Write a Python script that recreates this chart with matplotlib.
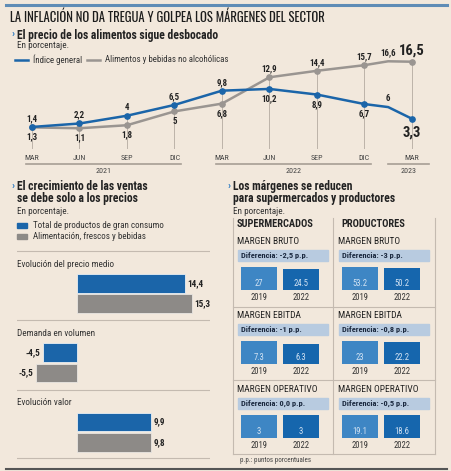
import matplotlib
matplotlib.use('Agg')
import matplotlib.pyplot as plt
from matplotlib.patches import Rectangle

W, H = 452, 471
BG = '#f2e8dc'
BLUE = '#1b65a9'
GREY = '#9a9591'
LINEC = '#c4bab0'
DARK = '#222222'
NARROW = ['Roboto Condensed', 'DejaVu Sans']
TITLE = ['Oswald', 'Roboto Condensed', 'DejaVu Sans']

# ---- data ----
months = [0, 3, 6, 9, 12, 15, 18, 21, 22.5, 24]   # months since MAR 2021
general = [1.4, 2.2, 4, 6.5, 9.8, 10.2, 8.9, 6.7, 6, 3.3]
food = [1.3, 1.1, 1.8, 5, 6.8, 12.9, 14.4, 15.7, 16.6, 16.5]
tick_months = [0, 3, 6, 9, 12, 15, 18, 21, 24]
tick_labels = ['MAR', 'JUN', 'SEP', 'DIC', 'MAR', 'JUN', 'SEP', 'DIC', 'MAR']
years = ['2021', '2022', '2023']
line_series = ['Índice general', 'Alimentos y bebidas no alcohólicas']

sales_groups = ['Evolución del precio medio', 'Demanda en volumen', 'Evolución valor']
sales_series = ['Total de productos de gran consumo', 'Alimentación, frescos y bebidas']
sales_total = [14.4, -4.5, 9.9]
sales_food = [15.3, -5.5, 9.8]

margin_rows = ['MARGEN BRUTO', 'MARGEN EBITDA', 'MARGEN OPERATIVO']
margin_years = ['2019', '2022']
super_2019 = [27, 7.3, 3]
super_2022 = [24.5, 6.3, 3]
prod_2019 = [53.2, 23, 19.1]
prod_2022 = [50.2, 22.2, 18.6]
super_diff = ['-2,5', '-1', '0,0']
prod_diff = ['-3', '-0,8', '-0,5']


def fmt(v):
    return f"{v:g}".replace('.', ',')


fig = plt.figure(figsize=(W / 100, H / 100), dpi=100, facecolor=BG)


def px_axes(x0, y0, x1, y1):
    ax = fig.add_axes([x0 / W, 1 - y1 / H, (x1 - x0) / W, (y1 - y0) / H])
    ax.set_facecolor('none')
    ax.axis('off')
    return ax


def ftext(x, y, s, **kw):
    kw.setdefault('va', 'center')
    kw.setdefault('family', NARROW)
    kw.setdefault('color', DARK)
    fig.text(x / W, 1 - y / H, s, **kw)


def hline(x0, x1, y, color=LINEC, lw=0.8):
    fig.add_artist(plt.Line2D([x0 / W, x1 / W], [1 - y / H, 1 - y / H],
                              color=color, lw=lw))


def vline(x, y0, y1, color=LINEC, lw=0.8):
    fig.add_artist(plt.Line2D([x / W, x / W], [1 - y0 / H, 1 - y1 / H],
                              color=color, lw=lw))


# header
hline(6, 447, 5, color='#5f8cb6', lw=2.2)
ftext(10, 17, "LA INFLACIÓN NO DA TREGUA Y GOLPEA LOS MÁRGENES DEL SECTOR",
      fontsize=9.1, fontweight='bold', color='#1c1c1c', family=TITLE)

# ---- line chart ----
ftext(12, 34, "›", fontsize=8, fontweight='bold', color='#2f7cc3')
ftext(17, 35, "El precio de los alimentos sigue desbocado", fontsize=8.4, fontweight='bold')
ftext(17, 46, "En porcentaje.", fontsize=6.6, color='#333')
hline(15, 28, 60, color=BLUE, lw=1.8)
ftext(33, 60, line_series[0], fontsize=6.4, color='#333')
hline(87, 100, 60, color=GREY, lw=1.8)
ftext(105, 60, line_series[1], fontsize=6.4, color='#333')

ax = px_axes(20, 55, 440, 175)
PXM, PXV = 15.83, 4.32
ax.set_xlim((20 - 32) / PXM, (440 - 32) / PXM)
ax.set_ylim((133 - 175) / PXV, (133 - 55) / PXV)

for m, lab in zip(tick_months, tick_labels):
    i = months.index(m)
    top = max(general[i], food[i])
    ax.plot([m, m], [-3.5, top], color='#bdb3a9', lw=0.7, zorder=1)
    ax.text(m, -5.8, lab, ha='center', va='center', fontsize=5.8,
            family=NARROW, color='#444')

mark = [months.index(m) for m in tick_months]
ax.plot(months, food, color=GREY, lw=1.8, marker='o', ms=3.8, markevery=mark, zorder=2)
ax.plot(months, general, color=BLUE, lw=1.8, marker='o', ms=3.8, markevery=mark, zorder=3)

gen_above = [True, True, True, True, True, False, False, False, True, False]
for i, (m, v) in enumerate(zip(months, general)):
    big = i == len(months) - 1
    dy = 6 if gen_above[i] else -7
    ax.annotate(fmt(v), (m, v), xytext=(0, dy * (1.4 if big else 1)),
                textcoords='offset points', ha='center', va='center',
                fontsize=10.5 if big else 6.4, fontweight='bold', family=NARROW, color=DARK)
for i, (m, v) in enumerate(zip(months, food)):
    big = i == len(months) - 1
    above = i >= 5
    dy = 6 if above else -7
    ax.annotate(fmt(v), (m, v), xytext=(0, dy * (1.4 if big else 1)),
                textcoords='offset points', ha='center', va='center',
                fontsize=10.5 if big else 6.4, fontweight='bold', family=NARROW, color=DARK)

for yr, (a, b) in zip(years, [(-0.4, 9.4), (11.6, 21.4), (22.5, 25.1)]):
    ax.plot([a, b], [-7.25, -7.25], color='#a79e95', lw=1.2, clip_on=False)
    ax.text((a + b) / 2, -8.85, yr, ha='center', va='center', fontsize=5.8,
            family=NARROW, color='#444')

# ---- sales bars ----
ftext(12, 186, "›", fontsize=8, fontweight='bold', color='#2f7cc3')
ftext(17, 192.5, "El crecimiento de las ventas\nse debe solo a los precios",
      fontsize=8.4, fontweight='bold', linespacing=0.95)
ftext(17, 211, "En porcentaje.", fontsize=6.6, color='#333')
fig.add_artist(Rectangle((17 / W, 1 - 228 / H), 10 / W, 5 / H, color=BLUE))
ftext(33, 225.5, sales_series[0], fontsize=6.5, color='#333')
fig.add_artist(Rectangle((17 / W, 1 - 239 / H), 10 / W, 5 / H, color='#8d8a87'))
ftext(33, 236.5, sales_series[1], fontsize=6.5, color='#333')

bx = px_axes(17, 245, 210, 465)
PXB = 7.5
bx.set_xlim((17 - 77) / PXB, (210 - 77) / PXB)
bx.set_ylim(465, 245)
centers = [293.5 + i * 69.3 for i in range(len(sales_groups))]
yb = [c - 10.2 for c in centers]
yg = [c + 10.2 for c in centers]
bx.barh(yb, sales_total, height=18.5, color=BLUE, edgecolor='#e9eef3', lw=0.6)
bx.barh(yg, sales_food, height=18.5, color='#8d8a87', edgecolor='#e9e6e2', lw=0.6)
for y, v in list(zip(yb, sales_total)) + list(zip(yg, sales_food)):
    off = 0.35 if v > 0 else -0.35
    bx.text(v + off, y, fmt(v), ha='left' if v > 0 else 'right', va='center',
            fontsize=6.6, fontweight='bold', family=NARROW, color=DARK)
for c, g in zip(centers, sales_groups):
    bx.plot(bx.get_xlim(), [c - 42.5, c - 42.5], color=LINEC, lw=0.8)
    bx.text(bx.get_xlim()[0], c - 29.5, g, ha='left', va='center',
            fontsize=6.6, family=NARROW, color='#333')
bx.plot(bx.get_xlim(), [458, 458], color=LINEC, lw=0.8)

# ---- margins ----
ftext(228, 186, "›", fontsize=8, fontweight='bold', color='#2f7cc3')
ftext(233, 192.5, "Los márgenes se reducen\npara supermercados y productores",
      fontsize=8.4, fontweight='bold', linespacing=0.95)
ftext(233, 211, "En porcentaje.", fontsize=6.6, color='#333')

vline(233, 218, 454)
vline(333, 218, 454)
vline(435, 218, 454)
hline(233, 435, 306.7)
hline(233, 435, 379.5)
hline(233, 435, 454)
ftext(237, 224, "SUPERMERCADOS", fontsize=7.5, fontweight='bold')
ftext(341, 224, "PRODUCTORES", fontsize=7.5, fontweight='bold')

for i, row in enumerate(margin_rows):
    b = 290 + i * 73.85
    for x0, v19, v22, diff in [(238, super_2019[i], super_2022[i], super_diff[i]),
                               (339, prod_2019[i], prod_2022[i], prod_diff[i])]:
        ftext(x0 - 1, b - 48.3, row, fontsize=6.8)
        fig.add_artist(Rectangle((x0 / W, 1 - (b - 29) / H), 90 / W, 11 / H,
                                 color='#b8cbe0'))
        ftext(x0 + 3, b - 34.5, f"Diferencia: {diff} p.p.", fontsize=6,
              fontweight='bold', color='#1c2a40')
        pa = px_axes(x0, b - 25, x0 + 90, b)
        pa.set_xlim(-0.5, 1.643)
        top = max(v19, v22) * 25 / 22.8
        pa.set_ylim(0, top)
        pa.bar([0, 1], [v19, v22], width=0.857, color=['#3e86c4', '#1666ad'])
        for xi, v in zip([0, 1], [v19, v22]):
            pa.text(xi, top * 6 / 25, f"{v:g}", ha='center', va='center', fontsize=6.2,
                    family=NARROW, color='#d3e3f3')
            pa.text(xi, -top * 8 / 25, margin_years[xi],
                    ha='center', va='center', fontsize=6.2, family=NARROW, color='#333')

ftext(240, 461, "p.p.: puntos porcentuales", fontsize=5, color='#444')
hline(6, 447, 469, color='#555', lw=1.5)

fig.savefig('out.png', dpi=100, facecolor=BG)
